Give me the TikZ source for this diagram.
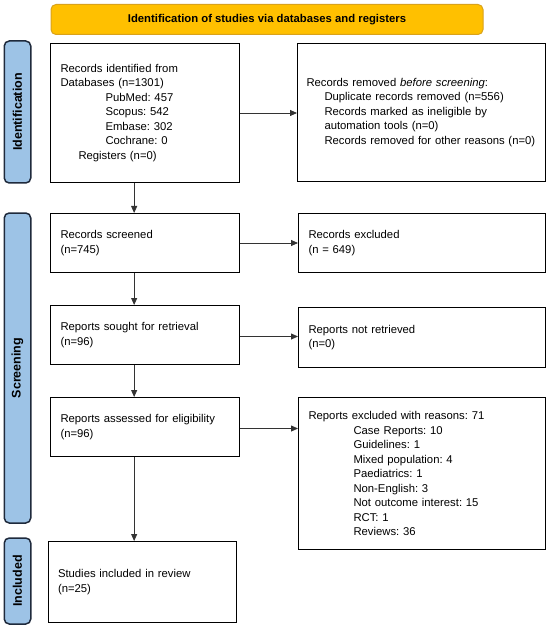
\documentclass[tikz,border=0pt]{standalone}
\usepackage{fontspec}
\setmainfont{Liberation Sans}
\usepackage{xcolor}
\usepackage{tikz}
\usetikzlibrary{
    calc,
    arrows.meta,
    positioning
}
\frenchspacing
\definecolor{hdrfill}{HTML}{FFC000}
\definecolor{hdrline}{HTML}{D9A21B}
\definecolor{barfill}{HTML}{9DC3E6}
\definecolor{barline}{HTML}{1F2A3C}
\definecolor{arrowgray}{HTML}{333333}
\tikzset{
    box/.style={draw, line width=1pt, inner xsep=10pt, align=left,
        font=\fontsize{11.3}{14.5}\selectfont},
    sidebar/.style={draw=barline, fill=barfill, line width=1.5pt, rounded corners=5pt,
        rotate=90, minimum height=26.5pt, inner sep=0pt,
        font=\fontsize{12.5}{14}\selectfont\bfseries},
    banner/.style={draw=hdrline, fill=hdrfill, line width=1pt, rounded corners=5pt,
        font=\fontsize{11.3}{14}\selectfont\bfseries},
    flow/.style={->, >={Triangle[length=7pt,width=6pt]}, draw=arrowgray, line width=0.8pt}
}

\begin{document}
\begin{tikzpicture}[x=1pt,y=-1pt]
        \useasboundingbox (0,0) rectangle (550,628);

        % header and phases
        \node[banner, minimum width=432pt, minimum height=30pt] (hdr) at (267,19.5)
            {Identification of studies via databases and registers};
        \node[sidebar, minimum width=142pt] (idn) at (17.5,112) {Identification};
        \node[sidebar, minimum width=310pt] (scrn) at (17.5,368) {Screening};
        \node[sidebar, minimum width=86pt] (incl) at (17.5,581) {Included};

        % left column
        \node[box, anchor=north west, minimum width=188.5pt, minimum height=139pt, text width=168.5pt] (rec) at (50,43)
            {Records identified from\\
             Databases (n=1301)\\
             \hspace*{45pt}PubMed: 457\\
             \hspace*{45pt}Scopus: 542\\
             \hspace*{45pt}Embase: 302\\
             \hspace*{45pt}Cochrane: 0\\
             \hspace*{18pt}Registers (n=0)};
        \node[box, anchor=north west, minimum width=188.5pt, minimum height=59pt, text width=168.5pt] (scr) at (50,213)
            {Records screened\\ (n=745)};
        \node[box, anchor=north west, minimum width=188.5pt, minimum height=59pt, text width=168.5pt] (sou) at (50,305)
            {Reports sought for retrieval\\ (n=96)};
        \node[box, anchor=north west, minimum width=188.5pt, minimum height=59pt, text width=168.5pt] (ass) at (50,397)
            {Reports assessed for eligibility\\ (n=96)};
        \node[box, anchor=north west, minimum width=188.5pt, minimum height=81pt, text width=168.5pt] (inc) at (47.5,541)
            {Studies included in review\\ (n=25)};

        % right column
        \node[box, inner xsep=9pt, anchor=north west, minimum width=248pt, minimum height=138pt, text width=230pt] (rem) at (297,43)
            {Records removed \textit{before screening}:\\
             \hspace*{18pt}Duplicate records removed (n=556)\\
             \hspace*{18pt}Records marked as ineligible by\\
             \hspace*{18pt}automation tools (n=0)\\
             \hspace*{18pt}Records removed for other reasons (n=0)};
        \node[box, anchor=north west, minimum width=247pt, minimum height=59pt, text width=227pt] (exc) at (298,213)
            {Records excluded\\ (n = 649)};
        \node[box, anchor=north west, minimum width=247pt, minimum height=60pt, text width=227pt] (ret) at (298,307)
            {Reports not retrieved\\ (n=0)};
        \node[box, anchor=north west, minimum width=247pt, minimum height=152pt, text width=227pt] (rex) at (298,397)
            {Reports excluded with reasons: 71\\
             \hspace*{45pt}Case Reports: 10\\
             \hspace*{45pt}Guidelines: 1\\
             \hspace*{45pt}Mixed population: 4\\
             \hspace*{45pt}Paediatrics: 1\\
             \hspace*{45pt}Non-English: 3\\
             \hspace*{45pt}Not outcome interest: 15\\
             \hspace*{45pt}RCT: 1\\
             \hspace*{45pt}Reviews: 36};

        % connectors
        \draw[flow] (rec.east) -- (rec.east -| rem.west);
        \draw[flow] (scr.east) -- (scr.east -| exc.west);
        \draw[flow] ([yshift=-1.5pt]sou.east) -- ([yshift=-1.5pt]sou.east -| ret.west);
        \draw[flow] ([yshift=-1.5pt]ass.east) -- ([yshift=-1.5pt]ass.east -| rex.west);
        \draw[flow] ([xshift=-10.6pt]rec.south) -- ([xshift=-10.6pt]rec.south |- scr.north);
        \draw[flow] ([xshift=-10.6pt]scr.south) -- ([xshift=-10.6pt]scr.south |- sou.north);
        \draw[flow] ([xshift=-10.6pt]sou.south) -- ([xshift=-10.6pt]sou.south |- ass.north);
        \draw[flow] ([xshift=-10.6pt]ass.south) -- ([xshift=-10.6pt]ass.south |- inc.north);
    \end{tikzpicture}
\end{document}
